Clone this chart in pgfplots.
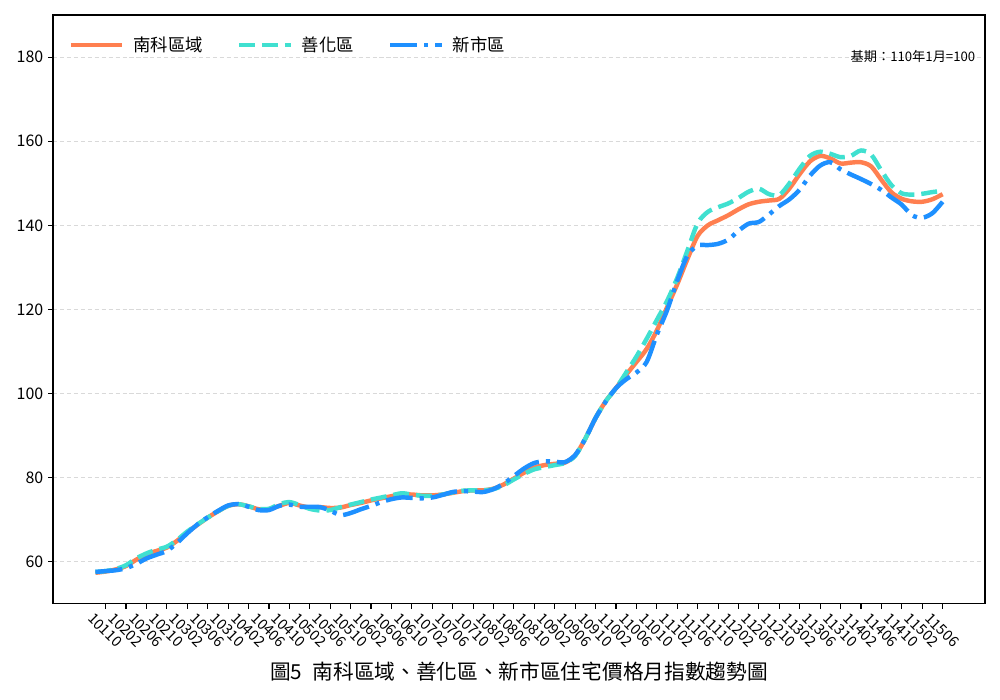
\documentclass[border=0pt]{standalone}
\usepackage{pgfplots}
\usepackage{pgfplotstable}
\usepackage{fontspec}
\pgfplotsset{compat=1.18}
\setmainfont{Noto Sans CJK TC}

\definecolor{nanke}{HTML}{FF7F50}
\definecolor{shanhua}{HTML}{40E0D0}
\definecolor{xinshi}{HTML}{1E90FF}

% m = months since 101/10, then the three indexes
\pgfplotstableread{
m   nk     sh     xs
-2  57.4   57.6   57.6
0   57.7   57.8   57.8
2   58.2   58.3   58.0
4   59.0   59.2   58.5
6   60.5   60.8   59.5
8   61.8   62.0   60.8
10  62.6   62.9   61.7
12  63.4   63.6   62.6
14  65.0   65.2   64.5
16  67.0   67.2   66.8
18  68.8   68.9   68.9
20  70.5   70.5   70.6
22  72.0   72.0   72.1
24  73.3   73.3   73.4
26  73.7   73.7   73.7
28  73.2   73.2   73.1
30  72.5   72.6   72.3
32  72.5   72.6   72.3
34  73.3   73.7   73.3
36  74.0   74.2   73.6
38  73.4   73.5   73.1
40  72.9   72.6   73.1
42  73.0   72.2   73.0
44  72.8   72.3   72.2
46  72.9   73.0   71.1
48  73.5   73.6   71.6
50  74.0   74.2   72.5
52  74.6   74.8   73.3
54  75.1   75.3   74.2
56  75.6   75.8   74.9
58  76.0   76.3   75.3
60  76.0   76.0   75.2
62  75.8   75.7   75.1
64  75.8   75.7   75.3
66  76.0   76.0   75.9
68  76.4   76.5   76.6
70  76.8   76.9   76.8
72  77.0   77.0   76.7
74  77.0   77.0   76.6
76  77.4   77.3   77.3
78  78.4   78.2   78.6
80  79.8   79.6   80.4
82  81.2   80.9   82.2
84  82.4   82.0   83.5
86  83.0   82.5   83.9
88  83.3   83.0   83.8
90  83.6   83.5   83.7
92  85.3   85.2   85.4
94  89.3   89.3   89.3
96  94.2   94.2   94.2
98  98.2   98.2   98.1
100 101.3  101.3  101.3
102 104.5  105.0  103.4
104 107.5  108.8  105.0
106 110.6  113.0  107.5
108 115.0  117.5  114.0
110 120.5  122.0  119.8
112 126.0  127.5  126.8
114 132.0  134.0  132.8
116 137.5  140.5  135.2
118 140.0  143.2  135.3
120 141.2  144.3  135.6
122 142.4  145.2  136.6
124 143.8  146.5  138.7
126 145.0  148.0  140.4
128 145.6  148.7  140.8
130 145.9  147.4  142.6
132 146.3  147.2  144.6
134 148.8  150.0  146.2
136 152.2  153.5  148.5
138 155.2  156.5  151.8
140 156.5  157.5  154.2
142 155.9  157.0  155.0
144 154.7  156.2  153.3
146 154.9  156.5  152.1
148 155.0  157.8  151.0
150 154.0  156.8  149.8
152 150.8  153.0  148.4
154 147.8  149.5  146.6
156 146.3  147.6  144.9
158 145.7  147.3  142.4
160 145.6  147.5  141.8
162 146.2  147.9  142.9
164 147.4  148.2  145.6
}\datatable

\begin{document}
\begin{tikzpicture}
\useasboundingbox (-38.2pt,-69.1pt) rectangle (681.8pt,434.8pt);
\begin{axis}[
  at={(0,0)}, anchor=south west,
  scale only axis,
  width=671pt, height=424pt,
  xmin=-10.3, xmax=172.3,
  ymin=50, ymax=190,
  axis line style={line width=0.8pt},
  tick style={line width=0.8pt, black},
  tick align=outside,
  major tick length=3.5pt,
  xtick pos=bottom, ytick pos=left,
  ytick={60,80,...,180},
  xtick={0,4,...,164},
  xticklabels={10110,10202,10206,10210,10302,10306,10310,10402,10406,10410,10502,10506,10510,10602,10606,10610,10702,10706,10710,10802,10806,10810,10902,10906,10910,11002,11006,11010,11102,11106,11110,11202,11206,11210,11302,11306,11310,11402,11406,11410,11502,11506},
  /pgf/number format/assume math mode=true,
  x tick label style={font=\fontsize{10.5}{12}\selectfont, rotate=-45, anchor=north west, xshift=-7.5pt, yshift=-3.6pt},
  y tick label style={font=\fontsize{11.5}{13}\selectfont},
  ymajorgrids,
  major grid style={black!15, line width=0.8pt, dash pattern=on 3pt off 2pt},
  legend style={draw=none, fill=none, at={(rel axis cs:0,1)}, anchor=north west,
    xshift=8pt, yshift=-11.5pt, font=\fontsize{12.5}{14}\selectfont,
    legend columns=3,
    /tikz/every odd column/.append style={column sep=4.5pt},
    /tikz/every even column/.append style={column sep=22.5pt}},
  legend image code/.code={\draw[#1] (0pt,0pt) -- (37pt,0pt);},
  every axis plot/.append style={line join=round},
]
\addplot[nanke, line width=3.2pt, smooth] table[x=m, y=nk] {\datatable};
\addlegendentry{南科區域}
\addplot[shanhua, line width=3.2pt, smooth, dash pattern=on 11.5pt off 5pt] table[x=m, y=sh] {\datatable};
\addlegendentry{善化區}
\addplot[xinshi, line width=3.2pt, smooth, dash pattern=on 19.5pt off 5pt on 3pt off 5pt] table[x=m, y=xs] {\datatable};
\addlegendentry{新市區}
\node[anchor=east, font=\fontsize{9.5}{11}\selectfont] at (rel axis cs:1,0.93) [xshift=-3.5pt] {基期：110年1月=100};
\end{axis}
\node[font=\fontsize{14.9}{16}\selectfont] at (335.5pt,-49pt) {圖5\hspace{0.5em}南科區域、善化區、新市區住宅價格月指數趨勢圖};
\end{tikzpicture}
\end{document}
